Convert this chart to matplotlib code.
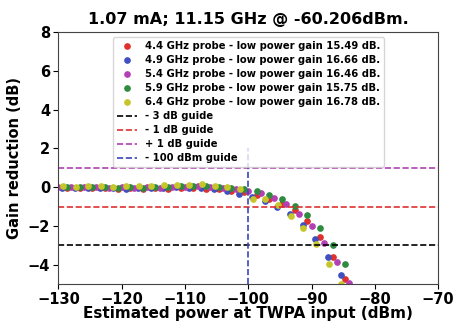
import numpy as np
import matplotlib
matplotlib.use("Agg")
import matplotlib.pyplot as plt

plt.rcParams["font.family"] = ["DejaVu Sans"]
plt.rcParams["font.weight"] = "bold"

TITLE = "1.07 mA; 11.15 GHz @ -60.206dBm."

# probe power sweeps (dBm at TWPA input), one per probe frequency
x_red = np.arange(-128.66, -84.0, 2.0)
x_blue = np.arange(-129.4, -84.0, 2.0)
x_mag = np.arange(-130.0, -83.0, 2.0)
x_green = np.arange(-128.66, -84.0, 2.0)
x_yel = np.arange(-129.3, -84.0, 2.0)

# gain reduction (dB)
g_red = [-0.05, -0.03, -0.06, -0.04, -0.08, -0.05, -0.09, -0.05, -0.07, -0.04,
         -0.06, -0.07, -0.12, -0.18, -0.26, -0.43, -0.60, -0.85, -1.19, -1.75,
         -2.59, -3.59, -4.76]
g_blue = [-0.02, -0.05, -0.03, -0.06, -0.04, -0.07, -0.03, -0.05, -0.02, 0.0,
          -0.02, -0.05, -0.10, -0.18, -0.33, -0.51, -0.71, -1.02, -1.40, -1.96,
          -2.70, -3.59, -4.54]
g_mag = [0.0, 0.02, -0.01, 0.02, -0.02, 0.0, -0.03, 0.01, -0.02, 0.03,
         0.02, 0.04, 0.0, -0.03, -0.10, -0.20, -0.31, -0.55, -0.89, -1.38,
         -2.03, -2.86, -3.85, -4.95]
g_green = [0.0, 0.02, -0.01, 0.0, -0.03, 0.01, -0.02, 0.03, 0.02, 0.05,
           0.04, 0.06, 0.02, -0.04, -0.12, -0.20, -0.39, -0.60, -0.97, -1.45,
           -2.13, -2.98, -3.96]
g_yel = [0.05, 0.03, 0.06, 0.04, 0.02, 0.06, 0.05, 0.08, 0.10, 0.12,
         0.10, 0.15, 0.08, 0.0, -0.12, -0.61, -0.60, -0.94, -1.47, -2.13,
         -2.96, -3.96, -5.02]

labels = ["4.4 GHz probe - low power gain 15.49 dB.",
          "4.9 GHz probe - low power gain 16.66 dB.",
          "5.4 GHz probe - low power gain 16.46 dB.",
          "5.9 GHz probe - low power gain 15.75 dB.",
          "6.4 GHz probe - low power gain 16.78 dB."]
colors = ["#e0302c", "#3f4fbf", "#b43fb4", "#2e8b40", "#c6c62a"]

fig = plt.figure(figsize=(4.53, 3.22), dpi=100)
ax = fig.add_axes([0.129, 0.118, 0.838, 0.782])

for xs, ys, c, lab in zip([x_red, x_blue, x_mag, x_green, x_yel],
                          [g_red, g_blue, g_mag, g_green, g_yel], colors, labels):
    ax.plot(xs, ys, "o", ms=3.8, color=c, label=lab)

ax.axhline(-3, ls="--", color="black", lw=1.2, label="- 3 dB guide")
ax.axhline(-1, ls="--", color="#e03030", lw=1.2, label="- 1 dB guide")
ax.axhline(1, ls="--", color="#b040b0", lw=1.2, label="+ 1 dB guide")
ax.vlines(-100, -5, 2, ls="--", color="#3a46b8", lw=1.2, label="- 100 dBm guide")

ax.set_xlim(-130, -70)
ax.set_ylim(-5, 8)
ax.set_xticks([-130, -120, -110, -100, -90, -80, -70])
ax.set_yticks([-4, -2, 0, 2, 4, 6, 8])
ax.tick_params(labelsize=10.5, pad=2.5)
for lbl in ax.get_xticklabels() + ax.get_yticklabels():
    lbl.set_fontweight("bold")
for s in ax.spines.values():
    s.set_color("#444444")

ax.set_xlabel("Estimated power at TWPA input (dBm)", fontsize=11, fontweight="bold", labelpad=-1)
ax.set_ylabel("Gain reduction (dB)", fontsize=10.5, fontweight="bold")
ax.set_title(TITLE, fontsize=11.5, fontweight="bold", pad=6)

leg = ax.legend(loc="upper center", framealpha=0.8,
                prop={"size": 7.2, "weight": "bold"}, labelspacing=0.4)

fig.savefig("out.png", dpi=100)
